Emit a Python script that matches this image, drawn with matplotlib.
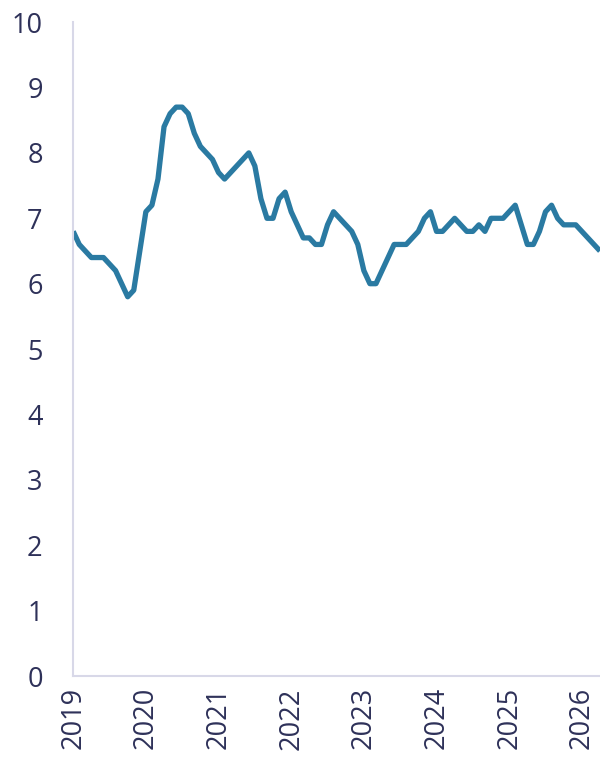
import matplotlib
matplotlib.use("Agg")
import matplotlib.pyplot as plt
import numpy as np

# monthly values, Jan 2019 .. Apr 2026
start_year = 2019
values = [
    6.8, 6.6, 6.5, 6.4, 6.4, 6.4, 6.3, 6.2, 6.0, 5.8, 5.9, 6.5,   # 2019
    7.1, 7.2, 7.6, 8.4, 8.6, 8.7, 8.7, 8.6, 8.3, 8.1, 8.0, 7.9,   # 2020
    7.7, 7.6, 7.7, 7.8, 7.9, 8.0, 7.8, 7.3, 7.0, 7.0, 7.3, 7.4,   # 2021
    7.1, 6.9, 6.7, 6.7, 6.6, 6.6, 6.9, 7.1, 7.0, 6.9, 6.8, 6.6,   # 2022
    6.2, 6.0, 6.0, 6.2, 6.4, 6.6, 6.6, 6.6, 6.7, 6.8, 7.0, 7.1,   # 2023
    6.8, 6.8, 6.9, 7.0, 6.9, 6.8, 6.8, 6.9, 6.8, 7.0, 7.0, 7.0,   # 2024
    7.1, 7.2, 6.9, 6.6, 6.6, 6.8, 7.1, 7.2, 7.0, 6.9, 6.9, 6.9,   # 2025
    6.8, 6.7, 6.6, 6.5,                                           # 2026
]
years = list(range(2019, 2027))
yticks = list(range(0, 11))

x = start_year + np.arange(len(values)) / 12.0

navy = "#2e3159"
line_col = "#2a7aa2"
spine_col = "#d8d8e8"

plt.rcParams['font.family'] = ['Open Sans', 'DejaVu Sans']

fig = plt.figure(figsize=(6, 7.63), dpi=100)
ax = fig.add_axes([0.122, 0.114, 0.878, 0.857])

ax.plot(x, values, color=line_col, linewidth=3.8, solid_joinstyle='round',
        solid_capstyle='butt')

ax.set_xlim(start_year, x[-1])
ax.set_ylim(0, 10)
ax.set_xticks(years)
ax.set_xticklabels([str(y) for y in years], rotation=90)
ax.set_yticks(yticks)

ax.tick_params(axis='both', length=0, labelsize=19.5, colors=navy)
ax.tick_params(axis='y', pad=22)
ax.tick_params(axis='x', pad=8)

for s in ['top', 'right']:
    ax.spines[s].set_visible(False)
for s in ['left', 'bottom']:
    ax.spines[s].set_color(spine_col)
    ax.spines[s].set_linewidth(1.5)

fig.savefig("out.png", dpi=100)
